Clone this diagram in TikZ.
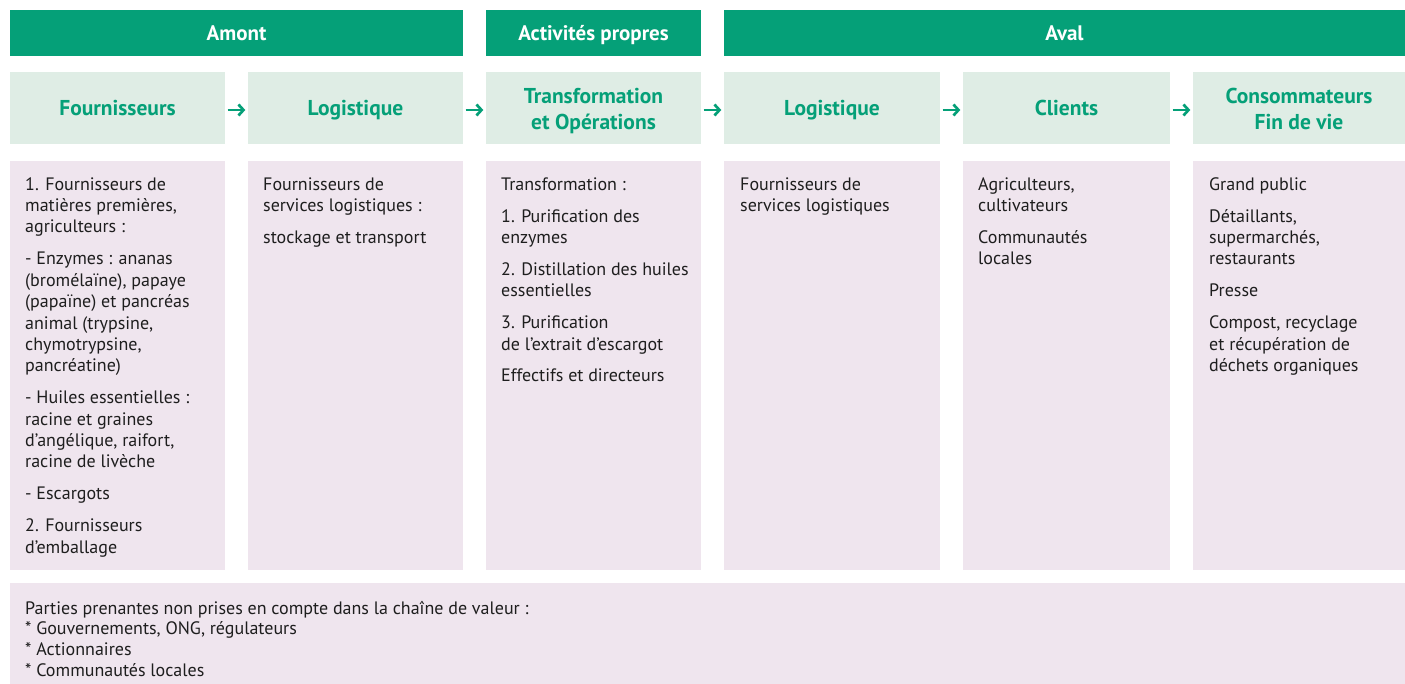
\documentclass[tikz,border=0pt]{standalone}
\usepackage{fontspec}
\setmainfont{PT Sans}
\usetikzlibrary{arrows.meta}
\definecolor{dgreen}{RGB}{5,160,120}
\definecolor{lgreen}{RGB}{223,237,229}
\definecolor{lpink}{RGB}{239,229,238}
\definecolor{txt}{RGB}{30,30,30}
\begin{document}
\begin{tikzpicture}[x=1pt,y=-1pt,
  hdr/.style={fill=dgreen, text=white, font=\fontsize{21}{24}\selectfont\bfseries, inner sep=0, minimum height=46pt, align=center, text height=14.7pt, text depth=0pt},
  ttlbox/.style={fill=lgreen, text=dgreen, font=\fontsize{21.5}{26}\selectfont\bfseries, inner sep=0, minimum height=72pt, align=center},
  ttl/.style={ttlbox, text height=15pt, text depth=0pt},
  cell/.style={fill=lpink, inner sep=0, minimum height=409pt},
  body/.style={text=txt, font=\fontsize{18}{21.4}\selectfont, inner sep=0, anchor=north west, align=left},
  note/.style={text=txt, font=\fontsize{18}{20.7}\selectfont, inner sep=0, anchor=north west, align=left},
  flow/.style={draw=dgreen, line width=2.7pt, -{Straight Barb[length=5pt,width=11pt,line width=2.7pt]}, shorten <=2.5pt, shorten >=2.5pt}]
\useasboundingbox (0,0) rectangle (1405,684);
\fill[white] (0,0) rectangle (1405,684);
% top headers
\node[hdr, minimum width=453pt] (amont) at (236.5,33) {Amont};
\node[hdr, minimum width=215pt] (propres) at (593.5,33) {Activités propres};
\node[hdr, minimum width=681pt] (aval) at (1064.5,33) {Aval};
% titles
\node[ttl, minimum width=215pt] (h1) at (117.5,108) {Fournisseurs};
\node[ttl, minimum width=215pt] (h2) at (355.5,108) {Logistique};
\node[ttlbox, minimum width=215pt] (h3) at (593.5,108) {\rule{0pt}{25pt}Transformation\\et Opérations\strut};
\node[ttl, minimum width=216pt] (h4) at (832,108) {Logistique};
\node[ttl, minimum width=207pt] (h5) at (1066.5,108) {Clients};
\node[ttlbox, minimum width=212pt] (h6) at (1299,108) {\rule{0pt}{25pt}Consommateurs\\Fin de vie\strut};
% arrows
\foreach \a/\b in {h1/h2,h2/h3,h3/h4,h4/h5,h5/h6}
  \draw[flow] ([yshift=-2pt]\a.east) -- ([yshift=-2pt]\b.west);
% cells
\node[cell, minimum width=215pt] (c1) at (117.5,365.5) {};
\node[cell, minimum width=215pt] (c2) at (355.5,365.5) {};
\node[cell, minimum width=215pt] (c3) at (593.5,365.5) {};
\node[cell, minimum width=216pt] (c4) at (832,365.5) {};
\node[cell, minimum width=207pt] (c5) at (1066.5,365.5) {};
\node[cell, minimum width=212pt] (c6) at (1299,365.5) {};
\node[fill=lpink, inner sep=0, minimum width=1395pt, minimum height=101pt] (bot) at (707.5,633.5) {};
% texts
\node[body] (t1) at (25,175) {\strut 1. Fournisseurs de\\matières premières,\\agriculteurs :\\[10.5pt]
- Enzymes : ananas\\(bromélaïne), papaye\\(papaïne) et pancréas\\animal (trypsine,\\chymotrypsine,\\pancréatine)\\[10.5pt]
- Huiles essentielles :\\racine et graines\\d’angélique, raifort,\\racine de livèche\\[10.5pt]
- Escargots\\[10.5pt]
2. Fournisseurs\\d’emballage};
\node[body] (t2) at (263,175) {\strut Fournisseurs de\\services logistiques :\\[10.5pt]stockage et transport};
\node[body] (t3) at (501,175) {\strut Transformation :\\[10.5pt]
1. Purification des\\enzymes\\[10.5pt]
2. Distillation des huiles\\essentielles\\[10.5pt]
3. Purification\\de l’extrait d’escargot\\[10.5pt]
Effectifs et directeurs};
\node[body] (t4) at (740,175) {\strut Fournisseurs de\\services logistiques};
\node[body] (t5) at (978,175) {\strut Agriculteurs,\\cultivateurs\\[10.5pt]Communautés\\locales};
\node[body] (t6) at (1209,175) {\strut Grand public\\[10.5pt]
Détaillants,\\supermarchés,\\restaurants\\[10.5pt]
Presse\\[10.5pt]
Compost, recyclage\\et récupération de\\déchets organiques};
\node[note] (t7) at (25,599.5) {\strut Parties prenantes non prises en compte dans la chaîne de valeur :\\
* Gouvernements, ONG, régulateurs\\* Actionnaires\\* Communautés locales};
\end{tikzpicture}
\end{document}
